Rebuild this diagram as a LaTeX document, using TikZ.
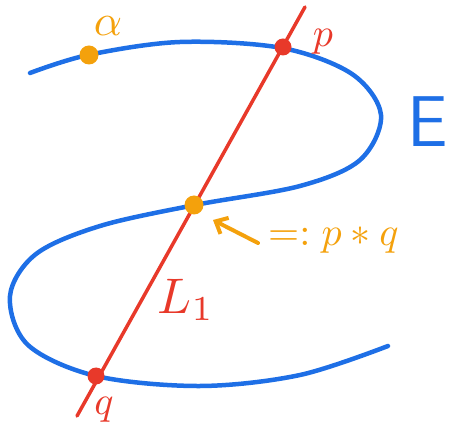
\documentclass[tikz,border=0pt]{standalone}
\usetikzlibrary{arrows.meta}
\definecolor{eblue}{HTML}{1E6FE6}
\definecolor{lred}{HTML}{E8392A}
\definecolor{porange}{HTML}{F4A10C}
\begin{document}
\begin{tikzpicture}[x=1pt,y=-1pt,
  curve/.style={draw=eblue,line width=4.5pt,line cap=round},
  redline/.style={draw=lred,line width=3.5pt,line cap=round},
  reddot/.style={circle,fill=lred,inner sep=0pt,minimum size=17pt},
  orgdot/.style={circle,fill=porange,inner sep=0pt,minimum size=19pt},
  lbl/.style={inner sep=0pt}]
\useasboundingbox (0,0) rectangle (458,430);
% elliptic curve E
\draw[curve] plot[smooth,tension=0.55] coordinates {
 (30,73) (88,55) (180,42) (282,48) (352,74) (381,115) (360,160)
 (300,186) (195,205) (100,226) (36,254) (10,296) (28,345) (96,376)
 (200,386) (300,375) (388,346)};
% line L1
\coordinate (top) at (305,7);
\coordinate (bot) at (77,416);
\draw[redline] (top) -- (bot);
% points
\node[reddot] (p) at (283,47) {};
\node[reddot] (q) at (96,376) {};
\node[orgdot] (pq) at (194,205) {};
\node[orgdot] (a) at (89,55) {};
% labels
\node[lbl,text=porange] (alab) at (108,26) {\scalebox{4.4}{$\alpha$}};
\node[lbl,text=lred] (plab) at (323,42) {\scalebox{4}{$p$}};
\node[lbl,text=lred] (qlab) at (104,410) {\scalebox{4}{$q$}};
\node[lbl,text=lred] (L) at (186,300) {\scalebox{5}{$L_1$}};
\node[lbl,text=eblue,font=\fontsize{72}{72}\selectfont\sffamily] (E) at (428,122) {E};
\node[lbl,text=porange,anchor=west] (pqlab) at (268,240) {\scalebox{4}{$=:p*q$}};
\coordinate (arrtail) at (258,243);
\coordinate (arrtip) at (213,220);
\draw[draw=porange,line width=4pt,line cap=round,-{Straight Barb[length=10pt,width=18pt]}] (arrtail) -- (arrtip);
\end{tikzpicture}
\end{document}
